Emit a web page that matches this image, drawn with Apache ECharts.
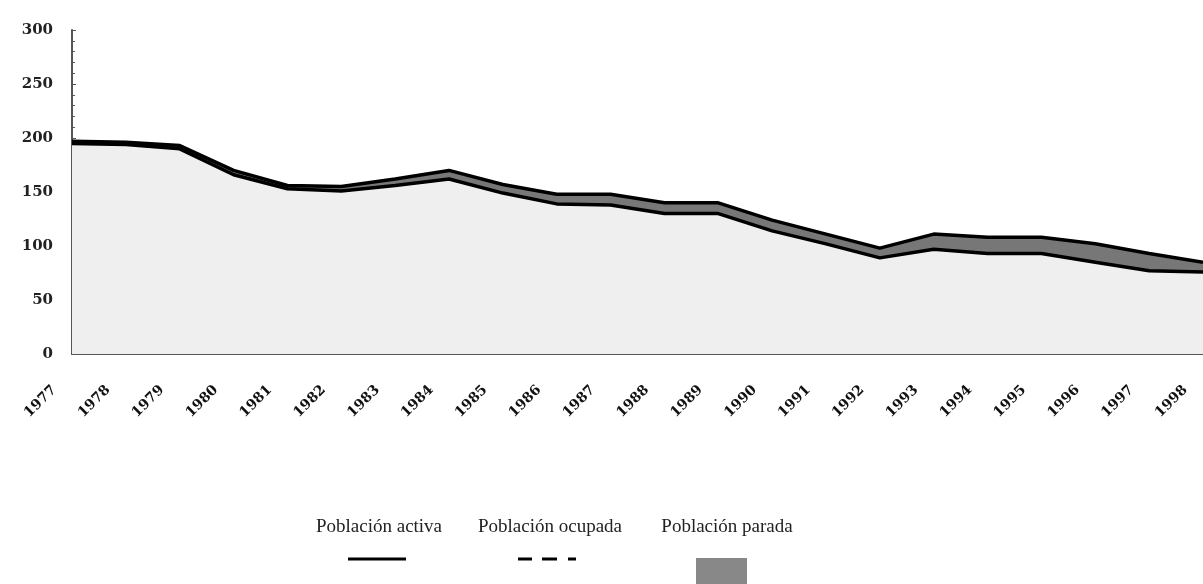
<!DOCTYPE html>
<html>
<head>
<meta charset="utf-8">
<script src="https://cdn.jsdelivr.net/npm/echarts@6/dist/echarts.min.js"></script>
<style>html,body{margin:0;padding:0;background:#fff}#c{width:1203px;height:584px}</style>
</head>
<body>
<div id="c"></div>
<script>
var years = ['1977','1978','1979','1980','1981','1982','1983','1984','1985','1986','1987','1988','1989','1990','1991','1992','1993','1994','1995','1996','1997','1998'];
var activa  = [197,196,193,170,156,155,162,170,157,148,148,140,140,124,111,98,111,108,108,102,93,85];
var ocupada = [195,194,190,166,153,151,156,162,149,139,138,130,130,114,102,89,97,93,93,85,77,76];
var seriesNames = ['Población activa','Población ocupada','Población parada'];
var yTicks = {min:0, max:300, interval:50};

var chart = echarts.init(document.getElementById('c'));
var wideSerif = 'DejaVu Serif';
chart.setOption({
  backgroundColor:'#fff',
  animation:false,
  grid:{left:72, right:-3, top:30, bottom:230, containLabel:false},
  xAxis:{
    type:'category', data:years, boundaryGap:false,
    axisLine:{lineStyle:{color:'#555', width:2}},
    axisTick:{inside:true, length:4, lineStyle:{color:'#555'}},
    axisLabel:{rotate:45, fontFamily:wideSerif, fontWeight:'bold', fontSize:14, color:'#111', margin:16, padding:[0,25,0,0], interval:0}
  },
  yAxis:{
    type:'value', min:yTicks.min, max:yTicks.max, interval:yTicks.interval,
    axisLine:{show:true, lineStyle:{color:'#555', width:2}},
    axisTick:{show:true, inside:true, length:4, lineStyle:{color:'#555'}},
    minorTick:{show:true, splitNumber:5, length:3, lineStyle:{color:'#555'}},
    splitLine:{show:false},
    axisLabel:{fontFamily:wideSerif, fontWeight:'bold', fontSize:15, color:'#222', margin:19}
  },
  series:[
    {name:seriesNames[0], type:'line', data:activa, symbol:'none', z:2,
     lineStyle:{color:'#000', width:3.5}, areaStyle:{color:'#777', opacity:1}},
    {name:seriesNames[1], type:'line', data:ocupada, symbol:'none', z:3,
     lineStyle:{color:'#000', width:3.5}, areaStyle:{color:'#efefef', opacity:1}}
  ],
  graphic:[
    {type:'text', x:379, y:527, style:{text:seriesNames[0], font:'19px "Liberation Serif"', fill:'#222', textAlign:'center', textVerticalAlign:'middle'}},
    {type:'text', x:550, y:527, style:{text:seriesNames[1], font:'19px "Liberation Serif"', fill:'#222', textAlign:'center', textVerticalAlign:'middle'}},
    {type:'text', x:727, y:527, style:{text:seriesNames[2], font:'19px "Liberation Serif"', fill:'#222', textAlign:'center', textVerticalAlign:'middle'}},
    {type:'line', shape:{x1:348, y1:559, x2:406, y2:559}, style:{stroke:'#000', lineWidth:3}},
    {type:'line', shape:{x1:518, y1:559, x2:532, y2:559}, style:{stroke:'#000', lineWidth:3}},
    {type:'line', shape:{x1:542, y1:559, x2:557, y2:559}, style:{stroke:'#000', lineWidth:3}},
    {type:'line', shape:{x1:568, y1:559, x2:576, y2:559}, style:{stroke:'#000', lineWidth:3}},
    {type:'rect', shape:{x:696, y:558, width:51, height:30}, style:{fill:'#888'}}
  ]
});
</script>
</body>
</html>
